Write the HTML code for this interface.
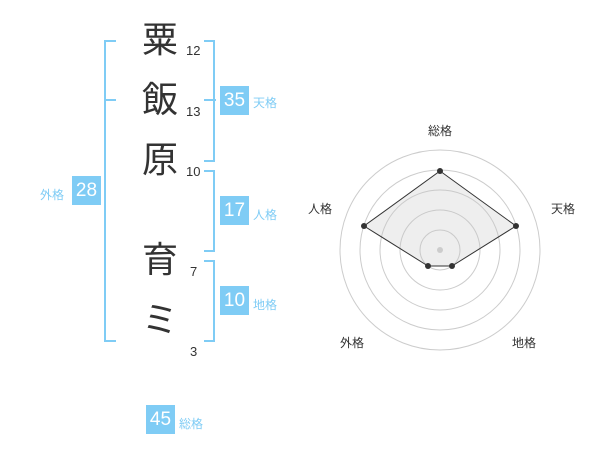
<!DOCTYPE html>
<html><head><meta charset="utf-8"><style>
body{margin:0;width:600px;height:470px;background:#fff;position:relative;font-family:"Liberation Sans","Noto Sans CJK JP",sans-serif;overflow:hidden}
.k{position:absolute;left:140px;width:40px;text-align:center;font-size:36px;line-height:40px;color:#333}
.n{position:absolute;left:186px;font-size:13px;color:#333}
.b{position:absolute;width:29px;height:29px;background:#7fccf5;color:#fff;font-size:19px;line-height:29px;text-align:center}
.l{position:absolute;font-size:12px;color:#7fccf5}
.br{position:absolute;border:2px solid #7fccf5}
</style></head><body>
<div class="k" style="top:20px">粟</div><div class="n" style="top:43px">12</div>
<div class="k" style="top:80px">飯</div><div class="n" style="top:104px">13</div>
<div class="k" style="top:140px">原</div><div class="n" style="top:164px">10</div>
<div class="k" style="top:240px">育</div><div class="n" style="top:264px;left:190px">7</div>
<div class="k" style="top:300px">ミ</div><div class="n" style="top:344px;left:190px">3</div>
<div class="br" style="left:104px;top:40px;width:10px;height:298px;border-right:none"></div>
<div style="position:absolute;left:104px;top:99px;width:12px;height:2px;background:#7fccf5"></div>
<div class="br" style="left:204px;top:40px;width:9px;height:118px;border-left:none"></div>
<div style="position:absolute;left:204px;top:99px;width:12px;height:2px;background:#7fccf5"></div>
<div class="br" style="left:204px;top:170px;width:9px;height:78px;border-left:none"></div>
<div class="br" style="left:204px;top:260px;width:9px;height:78px;border-left:none"></div>
<div class="b" style="left:220px;top:86px">35</div><div class="l" style="left:253px;top:94px">天格</div>
<div class="b" style="left:220px;top:196px">17</div><div class="l" style="left:253px;top:206px">人格</div>
<div class="b" style="left:220px;top:286px">10</div><div class="l" style="left:253px;top:296px">地格</div>
<div class="b" style="left:72px;top:176px">28</div><div class="l" style="left:40px;top:186px">外格</div>
<div class="b" style="left:146px;top:405px">45</div><div class="l" style="left:179px;top:415px">総格</div>
<svg style="position:absolute;left:0;top:0" width="600" height="470">
<g fill="none" stroke="#ccc" stroke-width="1">
<circle cx="440" cy="250" r="20"/><circle cx="440" cy="250" r="40"/><circle cx="440" cy="250" r="60"/><circle cx="440" cy="250" r="80"/><circle cx="440" cy="250" r="100"/></g>
<polygon points="440,171 516,226 452,266 428,266 364,226" fill="rgba(200,200,200,0.3)" stroke="#333" stroke-width="1"/>
<circle cx="440" cy="250" r="3" fill="#ccc"/>
<g fill="#333"><circle cx="440" cy="171" r="3"/><circle cx="516" cy="226" r="3"/><circle cx="452" cy="266" r="3"/><circle cx="428" cy="266" r="3"/><circle cx="364" cy="226" r="3"/></g>
<g font-size="12" fill="#333" text-anchor="middle" font-family="Liberation Sans,Noto Sans CJK JP,sans-serif">
<text x="440" y="135">総格</text><text x="563" y="213">天格</text><text x="524" y="347">地格</text><text x="352" y="347">外格</text><text x="320" y="213">人格</text></g>
</svg>
</body></html>
